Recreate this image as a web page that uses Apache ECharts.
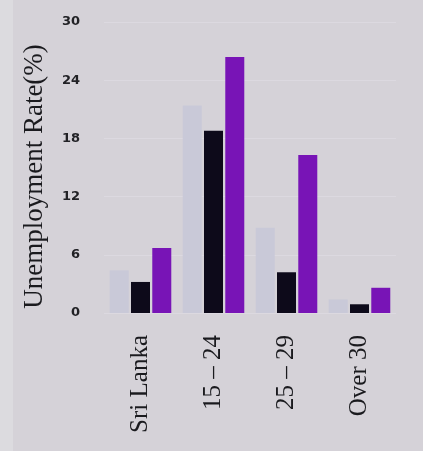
<!DOCTYPE html>
<html>
<head>
<meta charset="utf-8">
<script src="https://cdn.jsdelivr.net/npm/echarts@6/dist/echarts.min.js"></script>
<style>
html,body{margin:0;padding:0;background:#d5d2d8;}
#c{width:423px;height:451px;}
</style>
</head>
<body>
<div id="c"></div>
<script>
var categories = ['Sri Lanka', '15 – 24', '25 – 29', 'Over 30'];
var seriesLight = [4.4, 21.4, 8.8, 1.4];
var seriesBlack = [3.2, 18.8, 4.2, 0.9];
var seriesPurple = [6.7, 26.4, 16.3, 2.6];
var yTicks = [0, 6, 12, 18, 24, 30];

var chart = echarts.init(document.getElementById('c'));
chart.setOption({
  backgroundColor: '#d5d2d8',
  animation: false,
  graphic: [{
    type: 'rect', z: -10, silent: true,
    shape: {x: 0, y: 0, width: 13, height: 451},
    style: {fill: '#dcdbdf'}
  }],
  grid: {left: 104, right: 27, top: 22, bottom: 138},
  xAxis: {
    type: 'category',
    data: categories,
    axisLine: {show: false},
    axisTick: {show: false},
    axisLabel: {
      rotate: 90,
      margin: 22,
      fontFamily: 'Liberation Serif',
      fontSize: 25,
      color: '#1a1a1e'
    }
  },
  yAxis: {
    type: 'value',
    min: 0, max: 30, interval: 6,
    name: 'Unemployment Rate(%)',
    nameLocation: 'middle',
    nameGap: 56,
    nameTextStyle: {fontFamily: 'Liberation Serif', fontSize: 27, color: '#1a1a1e', padding: [0, 18, 0, 0]},
    axisLine: {show: false},
    axisTick: {show: false},
    splitLine: {show: true, lineStyle: {color: '#dcd9e0', width: 1}},
    axisLabel: {
      margin: 24,
      fontFamily: 'DejaVu Sans',
      fontWeight: 'bold',
      fontSize: 13,
      color: '#222226',
      formatter: function (v) { return yTicks.indexOf(v) >= 0 ? String(v) : ''; }
    }
  },
  series: [
    {name: 'Series 1', type: 'bar', data: seriesLight, barWidth: 19, barGap: '12%', itemStyle: {color: '#c9c9d8'}},
    {name: 'Series 2', type: 'bar', data: seriesBlack, barWidth: 19, barGap: '12%', itemStyle: {color: '#0d0a1a'}},
    {name: 'Series 3', type: 'bar', data: seriesPurple, barWidth: 19, barGap: '12%', itemStyle: {color: '#7814b6'}}
  ]
});
</script>
</body>
</html>
